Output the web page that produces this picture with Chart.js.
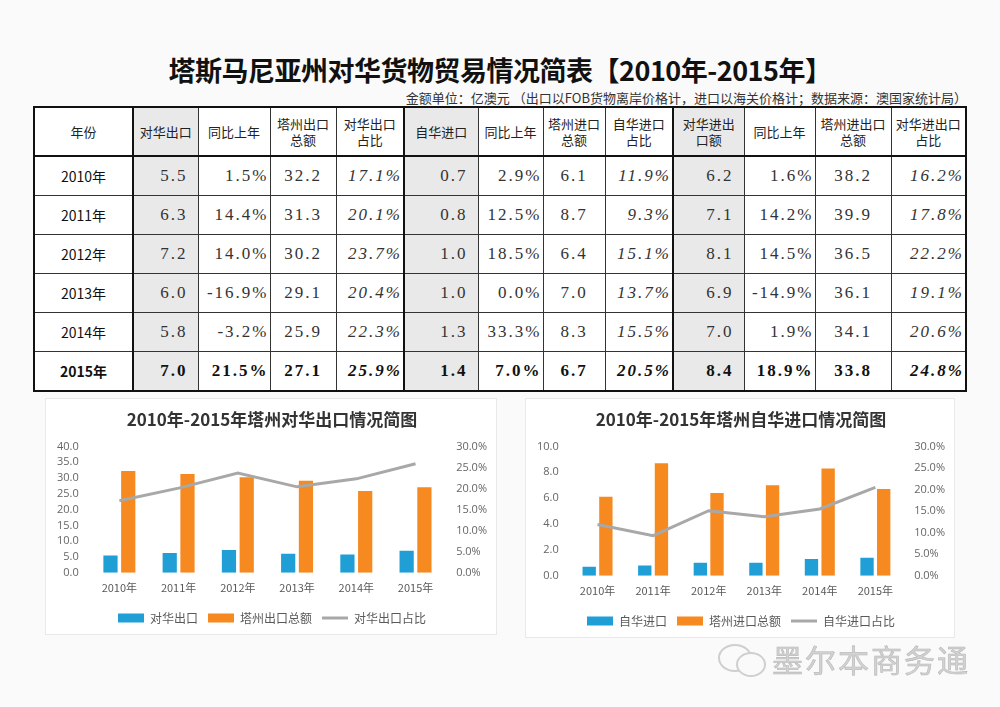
<!DOCTYPE html>
<html>
<head>
<meta charset="utf-8">
<script src="https://cdn.jsdelivr.net/npm/chart.js@4/dist/chart.umd.min.js"></script>
<style>
  body { margin: 0; width: 1000px; height: 707px; background: #fafafa; position: relative; overflow: hidden; font-family: "Noto Sans CJK SC", sans-serif; color: #222; }
  #title { position: absolute; left: 0; width: 1000px; top: 50px; text-align: center; font-size: 27px; font-weight: bold; color: #111; letter-spacing: -0.5px; }
  #unit { position: absolute; right: 33px; top: 88px; font-size: 13px; color: #333; }
  #tbl { position: absolute; left: 33px; top: 106px; width: 934px; border-collapse: collapse; table-layout: fixed; border: 2px solid #111; background: #fff; }
  #tbl th, #tbl td { border: 1px solid #333; padding: 0; overflow: hidden; white-space: nowrap; }
  #tbl th { height: 47px; font-weight: normal; font-size: 13px; line-height: 16px; white-space: normal; border-bottom: 2px solid #111; }
  #tbl td { height: 38px; font-family: "Liberation Serif", serif; font-size: 17px; letter-spacing: 2px; color: #333; }
  #tbl td.yr { text-align: center; font-family: "Noto Sans CJK SC", sans-serif; font-size: 14px; letter-spacing: 0; color: #111; }
  #tbl .sh { background: #e9e9e9; }
  #tbl .thick { border-left: 2px solid #111; }
  #tbl td.v { text-align: right; padding-right: 10px; }
  #tbl td.p { text-align: right; padding-right: 1px; }
  #tbl td.c { text-align: center; }
  #tbl td.i { text-align: right; padding-right: 1px; font-style: italic; }
  #tbl tr.last td { font-weight: bold; color: #111; }
  .panel { position: absolute; background: #fff; border: 1px solid #e8e8e8; }
  #wm { position: absolute; left: 772px; top: 636px; font-size: 31px; color: #d2d2d2; letter-spacing: 2px; -webkit-text-stroke: 0.6px #b8b8b8; }
  .bub { position: absolute; border: 2px solid #cfcfcf; border-radius: 50%; background: #fafafa; }
</style>
</head>
<body>
<div id="title">塔斯马尼亚州对华货物贸易情况简表【2010年-2015年】</div>
<div id="unit">金额单位：亿澳元 （出口以FOB货物离岸价格计，进口以海关价格计；数据来源：澳国家统计局）</div>
<table id="tbl">
  <colgroup>
    <col style="width:99px"><col style="width:65px"><col style="width:72px"><col style="width:66px"><col style="width:68px">
    <col style="width:74px"><col style="width:65px"><col style="width:62px"><col style="width:68px">
    <col style="width:71px"><col style="width:71px"><col style="width:76px"><col style="width:75px">
  </colgroup>
  <thead><tr id="head"></tr></thead>
  <tbody id="body"></tbody>
</table>

<div class="panel" style="left:45px;top:398px;width:450px;height:235px;"><canvas id="exportChart" width="450" height="235"></canvas></div>
<div class="panel" style="left:525px;top:398px;width:428px;height:238px;"><canvas id="importChart" width="428" height="238"></canvas></div>

<div class="bub" style="left:718px;top:644px;width:30px;height:24px;"></div>
<div class="bub" style="left:736px;top:652px;width:26px;height:21px;"></div>
<div id="wm">墨尔本商务通</div>

<script>
const years = ["2010年", "2011年", "2012年", "2013年", "2014年", "2015年"];

// exports to China
const exportToChina = [5.5, 6.3, 7.2, 6.0, 5.8, 7.0];
const exportYoY = [1.5, 14.4, 14.0, -16.9, -3.2, 21.5];
const exportTotal = [32.2, 31.3, 30.2, 29.1, 25.9, 27.1];
const exportShare = [17.1, 20.1, 23.7, 20.4, 22.3, 25.9];

// imports from China
const importFromChina = [0.7, 0.8, 1.0, 1.0, 1.3, 1.4];
const importYoY = [2.9, 12.5, 18.5, 0.0, 33.3, 7.0];
const importTotal = [6.1, 8.7, 6.4, 7.0, 8.3, 6.7];
const importShare = [11.9, 9.3, 15.1, 13.7, 15.5, 20.5];

// total trade with China
const tradeWithChina = [6.2, 7.1, 8.1, 6.9, 7.0, 8.4];
const tradeYoY = [1.6, 14.2, 14.5, -14.9, 1.9, 18.9];
const tradeTotal = [38.2, 39.9, 36.5, 36.1, 34.1, 33.8];
const tradeShare = [16.2, 17.8, 22.2, 19.1, 20.6, 24.8];

const headers = ["年份", "对华出口", "同比上年", "塔州出口<br>总额", "对华出口<br>占比",
  "自华进口", "同比上年", "塔州进口<br>总额", "自华进口<br>占比",
  "对华进出<br>口额", "同比上年", "塔州进出口<br>总额", "对华进出口<br>占比"];

const leftTicks = { exp: 5, imp: 2 };

// ---- table ----
const head = document.getElementById("head");
headers.forEach((h, i) => {
  const th = document.createElement("th");
  th.innerHTML = h;
  if (i === 1 || i === 5 || i === 9) th.className = "sh thick";
  head.appendChild(th);
});

const body = document.getElementById("body");
years.forEach((y, r) => {
  const tr = document.createElement("tr");
  if (r === years.length - 1) tr.className = "last";
  const cells = [
    [y, "yr"],
    [exportToChina[r].toFixed(1), "v sh thick"],
    [exportYoY[r].toFixed(1) + "%", "p"],
    [exportTotal[r].toFixed(1), "c"],
    [exportShare[r].toFixed(1) + "%", "i"],
    [importFromChina[r].toFixed(1), "v sh thick"],
    [importYoY[r].toFixed(1) + "%", "p"],
    [importTotal[r].toFixed(1), "c"],
    [importShare[r].toFixed(1) + "%", "i"],
    [tradeWithChina[r].toFixed(1), "v sh thick"],
    [tradeYoY[r].toFixed(1) + "%", "p"],
    [tradeTotal[r].toFixed(1), "c"],
    [tradeShare[r].toFixed(1) + "%", "i"],
  ];
  cells.forEach(([txt, cls]) => {
    const td = document.createElement("td");
    td.textContent = txt;
    td.className = cls;
    tr.appendChild(td);
  });
  body.appendChild(tr);
});

// ---- charts ----
function legendLabels(chart) {
  const items = Chart.defaults.plugins.legend.labels.generateLabels(chart);
  items.forEach((it) => {
    const ds = chart.data.datasets[it.datasetIndex];
    if (ds.type === "line") {
      it.pointStyle = "line";
      it.strokeStyle = ds.borderColor;
      it.lineWidth = 3;
    } else {
      it.pointStyle = "rect";
      it.lineWidth = 0;
    }
  });
  return items;
}

function comboChart(id, title, barA, barB, share, names, leftMax, leftStep) {
  const ctx = document.getElementById(id).getContext("2d");
  return new Chart(ctx, {
    type: "bar",
    data: {
      labels: years,
      datasets: [
        { label: names[0], data: barA, backgroundColor: "#1f9fd6", yAxisID: "y", order: 2,
          categoryPercentage: 0.6, barPercentage: 0.8 },
        { label: names[1], data: barB, backgroundColor: "#f6891f", yAxisID: "y", order: 2,
          categoryPercentage: 0.6, barPercentage: 0.8 },
        { type: "line", label: names[2], data: share, borderColor: "#a8a8a8", backgroundColor: "#a8a8a8",
          borderWidth: 3, pointRadius: 0, tension: 0, yAxisID: "y1", order: 1 },
      ],
    },
    options: {
      responsive: false,
      animation: false,
      layout: { padding: { left: 8, right: 6, top: 4, bottom: 0 } },
      plugins: {
        title: {
          display: true,
          text: title,
          color: "#333",
          font: { size: 17, weight: "bold", family: "'Noto Sans CJK SC', sans-serif" },
          padding: { top: 6, bottom: 17 },
        },
        legend: {
          position: "bottom",
          labels: {
            usePointStyle: true,
            pointStyleWidth: 26,
            boxHeight: 9,
            padding: 10,
            color: "#595959",
            font: { size: 12, family: "'Noto Sans CJK SC', sans-serif" },
            generateLabels: legendLabels,
            sort: (a, b) => a.datasetIndex - b.datasetIndex,
          },
        },
        tooltip: { enabled: false },
      },
      scales: {
        x: {
          grid: { display: false, drawTicks: false },
          border: { display: false },
          ticks: { color: "#595959", padding: 8, font: { size: 11, family: "'Noto Sans CJK SC', sans-serif" } },
        },
        y: {
          position: "left",
          min: 0,
          max: leftMax,
          grid: { display: false },
          border: { display: false },
          ticks: { stepSize: leftStep, autoSkip: false, color: "#666", font: { size: 11, family: "'Open Sans', sans-serif" },
            callback: (v) => v.toFixed(1) },
        },
        y1: {
          position: "right",
          min: 0,
          max: 30,
          grid: { display: false },
          border: { display: false },
          ticks: { stepSize: 5, autoSkip: false, color: "#666", font: { size: 11, family: "'Open Sans', sans-serif" },
            callback: (v) => v.toFixed(1) + "%" },
        },
      },
    },
  });
}

comboChart("exportChart", "2010年-2015年塔州对华出口情况简图", exportToChina, exportTotal, exportShare,
  ["对华出口", "塔州出口总额", "对华出口占比"], 40, leftTicks.exp);
comboChart("importChart", "2010年-2015年塔州自华进口情况简图", importFromChina, importTotal, importShare,
  ["自华进口", "塔州进口总额", "自华进口占比"], 10, leftTicks.imp);
</script>
</body>
</html>
